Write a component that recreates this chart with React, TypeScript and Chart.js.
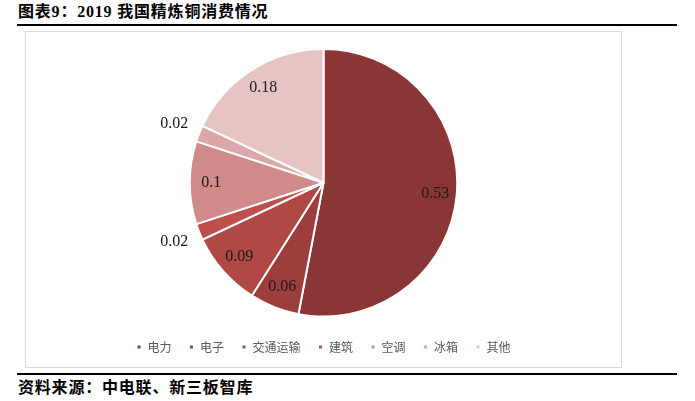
import React, { useEffect, useRef } from "react";
import { Chart, registerables } from "chart.js";

Chart.register(...registerables);

const categories = ["电力", "电子", "交通运输", "建筑", "空调", "冰箱", "其他"];
const values = [0.53, 0.06, 0.09, 0.02, 0.1, 0.02, 0.18];
const labelTexts = ["0.53", "0.06", "0.09", "0.02", "0.1", "0.02", "0.18"];
const outsideLabel = [false, false, false, true, false, true, false];
const colors = ["#8A3636", "#9E3E3C", "#B04846", "#BF4F4C", "#D08A89", "#DBA8A7", "#E6C4C3"];

const labelPlugin = {
  id: "sliceLabels",
  afterDatasetsDraw(chart: any) {
    const ctx = chart.ctx;
    const meta = chart.getDatasetMeta(0);
    ctx.save();
    ctx.font = "16px 'Liberation Serif', serif";
    ctx.fillStyle = "#1a1a1a";
    ctx.textAlign = "center";
    ctx.textBaseline = "middle";
    meta.data.forEach((arc: any, i: number) => {
      const { x, y, startAngle, endAngle, outerRadius } = arc.getProps(
        ["x", "y", "startAngle", "endAngle", "outerRadius"],
        true
      );
      const mid = (startAngle + endAngle) / 2;
      const f = outsideLabel[i] ? 1.2 : 0.84;
      const r = outerRadius * f;
      ctx.fillText(labelTexts[i], x + Math.cos(mid) * r, y + Math.sin(mid) * r);
    });
    ctx.restore();
  },
};

const legendShift = {
  id: "legendShift",
  afterLayout(chart: any) {
    if (chart.legend) {
      chart.legend.top += 6;
      chart.legend.bottom += 6;
    }
  },
};

export default function App() {
  const ref = useRef<HTMLCanvasElement>(null);
  useEffect(() => {
    document.body.style.margin = "0";
    const chart = new Chart(ref.current!, {
      type: "pie",
      data: {
        labels: categories,
        datasets: [
          {
            data: values,
            backgroundColor: colors,
            borderColor: "#ffffff",
            borderWidth: 2,
          },
        ],
      },
      options: {
        animation: false,
        responsive: false,
        maintainAspectRatio: false,
        layout: { padding: { top: 16, bottom: 10, left: 0, right: 0 } },
        plugins: {
          tooltip: { enabled: false },
          legend: {
            position: "bottom",
            labels: {
              boxWidth: 5,
              boxHeight: 5,
              padding: 17.5,
              color: "#595959",
              font: { family: "'Noto Sans CJK SC', sans-serif", size: 12 },
            },
          },
        },
      },
      plugins: [labelPlugin, legendShift],
    });
    return () => chart.destroy();
  }, []);

  const headStyle: React.CSSProperties = {
    position: "absolute",
    left: 18,
    fontSize: 16,
    lineHeight: "16px",
    letterSpacing: "0.8px",
    fontWeight: "bold",
    color: "#000",
    whiteSpace: "nowrap",
  };

  return (
    <div style={{ position: "relative", width: 695, height: 401, background: "#fff", fontFamily: "'Liberation Serif', 'Noto Sans CJK SC', serif" }}>
      <div style={{ ...headStyle, top: 4 }}>图表9：2019 我国精炼铜消费情况</div>
      <div style={{ position: "absolute", left: 17, top: 24, width: 660, height: 2, background: "#000" }} />
      <div style={{ position: "absolute", left: 25, top: 31, width: 597, height: 337, border: "1px solid #d9d9d9", boxSizing: "border-box" }}>
        <canvas ref={ref} width={595} height={335} style={{ display: "block" }} />
      </div>
      <div style={{ position: "absolute", left: 17, top: 373, width: 660, height: 2, background: "#000" }} />
      <div style={{ ...headStyle, top: 380 }}>资料来源：中电联、新三板智库</div>
    </div>
  );
}
